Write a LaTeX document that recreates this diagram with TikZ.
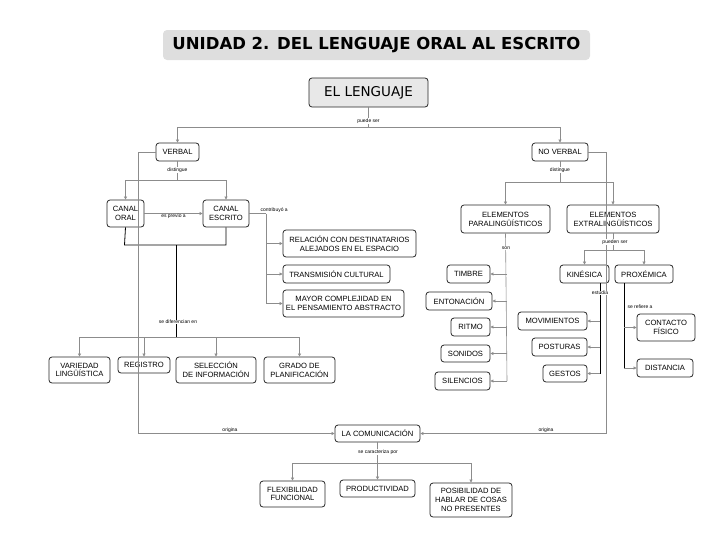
\documentclass[tikz,border=0pt]{standalone}
\usepackage{fontspec}
\setmainfont{Liberation Sans}
\newfontfamily\titlefont{DejaVu Sans}
\usetikzlibrary{arrows.meta}
\begin{document}
\begin{tikzpicture}[x=1pt,y=-1pt,
  box/.style={draw=black!85,line width=0.8pt,rounded corners=3pt,align=center,inner sep=1pt,font=\fontsize{7.6}{8.8}\selectfont},
  lab/.style={font=\fontsize{5}{6}\selectfont,inner sep=0.5pt,fill=white},
  con/.style={draw=black!45,line width=0.6pt},
  blk/.style={draw=black,line width=0.8pt},
  arr/.style={-{Triangle[length=3pt,width=3pt]}}]
\useasboundingbox (0,0) rectangle (728,546);
\node[fill=black!13,rounded corners=4pt,minimum width=427,minimum height=30,font=\titlefont\bfseries\fontsize{16.5}{18}\selectfont] (title) at (376.5,45) {UNIDAD 2. DEL LENGUAJE ORAL AL ESCRITO};
\node[box,fill=black!9,minimum width=119,minimum height=29,font=\titlefont\fontsize{13.5}{15}\selectfont] (len) at (368.5,92.5) {EL LENGUAJE};
\node[box,minimum width=43,minimum height=18] (verbal) at (177.5,152) {VERBAL};
\node[box,minimum width=56,minimum height=18] (nover) at (560,152) {NO VERBAL};
\node[box,minimum width=37,minimum height=27] (oral) at (125.5,213.5) {CANAL\\ORAL};
\node[box,minimum width=46,minimum height=27] (escr) at (226,213.5) {CANAL\\ESCRITO};
\node[box,minimum width=133,minimum height=27] (rel) at (349.5,243.5) {RELACIÓN CON DESTINATARIOS\\ALEJADOS EN EL ESPACIO};
\node[box,minimum width=107,minimum height=18] (trans) at (336.5,274) {TRANSMISIÓN CULTURAL};
\node[box,minimum width=121,minimum height=27] (mayor) at (343.5,303.5) {MAYOR COMPLEJIDAD EN\\EL PENSAMIENTO ABSTRACTO};
\node[box,minimum width=61,minimum height=26] (var) at (79.5,370) {VARIEDAD\\LINGÜÍSTICA};
\node[box,minimum width=52,minimum height=16] (reg) at (144,365) {REGISTRO};
\node[box,minimum width=80,minimum height=26] (sel) at (216,370) {SELECCIÓN\\DE INFORMACIÓN};
\node[box,minimum width=71,minimum height=26] (grado) at (299.5,370) {GRADO DE\\PLANIFICACIÓN};
\node[box,minimum width=85,minimum height=17] (com) at (377.5,433.5) {LA COMUNICACIÓN};
\node[box,minimum width=65,minimum height=26] (flex) at (292.5,494) {FLEXIBILIDAD\\FUNCIONAL};
\node[box,minimum width=75,minimum height=17] (prod) at (377.5,488.5) {PRODUCTIVIDAD};
\node[box,minimum width=82,minimum height=34] (posi) at (471,500) {POSIBILIDAD DE\\HABLAR DE COSAS\\NO PRESENTES};
\node[box,minimum width=89,minimum height=28] (para) at (505.5,219) {ELEMENTOS\\PARALINGÜÍSTICOS};
\node[box,minimum width=92,minimum height=28] (extra) at (613,219) {ELEMENTOS\\EXTRALINGÜÍSTICOS};
\node[box,minimum width=43,minimum height=18] (timbre) at (468.5,274) {TIMBRE};
\node[box,minimum width=66,minimum height=18] (ento) at (459,301) {ENTONACIÓN};
\node[box,minimum width=39,minimum height=18] (ritmo) at (470.5,327) {RITMO};
\node[box,minimum width=49,minimum height=17] (son) at (465.5,353.5) {SONIDOS};
\node[box,minimum width=55,minimum height=18] (sil) at (462.5,381) {SILENCIOS};
\node[box,minimum width=49,minimum height=18] (kin) at (584.5,274) {KINÉSICA};
\node[box,minimum width=58,minimum height=18] (prox) at (644,274) {PROXÉMICA};
\node[box,minimum width=69,minimum height=18] (mov) at (552.5,321) {MOVIMIENTOS};
\node[box,minimum width=55,minimum height=18] (pos) at (559.5,347) {POSTURAS};
\node[box,minimum width=44,minimum height=17] (ges) at (565,373.5) {GESTOS};
\node[box,minimum width=58,minimum height=27] (cont) at (666,327.5) {CONTACTO\\FÍSICO};
\node[box,minimum width=56,minimum height=18] (dist) at (665,368) {DISTANCIA};
% lenguaje
\draw[con] (len.south) -- (368.5,127);
\draw[con,arr] (368.5,127) -| (verbal.north);
\draw[con,arr] (368.5,127) -| (nover.north);
\node[lab] at (368.5,121) {puede ser};
% verbal
\coordinate (vj) at (177.5,180);
\draw[con] (verbal.south) -- (vj);
\draw[con,arr] (vj) -| (oral.north);
\draw[con,arr] (vj) -| (escr.north);
\node[lab] at (177.5,170) {distingue};
\draw[con,arr] (oral.east) -- (escr.west) node[midway,lab,yshift=-3] {es previo a};
\draw[con] (escr.east) -- (266,213.5) node[pos=0.5,right=2pt,lab,yshift=3] {contribuyó a};
\draw[con] (266,213.5) -- (266,303.5);
\draw[con,arr] (266,243.5) -- (rel.west);
\draw[con,arr] (266,274) -- (trans.west);
\draw[con,arr] (266,303.5) -- (mayor.west);
\draw[blk] (oral.south) -- (124.5,245) -| (escr.south);
\coordinate (dj) at (176,337);
\draw[blk] (176,245) -- (dj);
\node[lab] at (178,322) {se diferencian en};
\draw[con,arr] (dj) -| (var.north);
\draw[con,arr] (dj) -| (reg.north);
\draw[con,arr] (dj) -| (sel.north);
\draw[con,arr] (dj) -| (grado.north);
% origina
\draw[con,arr] (verbal.west) -| (138,433.5) -- (com.west);
\node[lab] at (230,430) {origina};
\draw[con,arr] (nover.east) -| (606,433.5) -- (com.east);
\node[lab] at (546,430) {origina};
% comunicacion
\coordinate (cj) at (377.5,463);
\draw[con] (com.south) -- (cj);
\node[lab] at (378,452) {se caracteriza por};
\draw[con,arr] (cj) -| (flex.north);
\draw[con,arr] (cj) -- (prod.north);
\draw[con,arr] (cj) -| (posi.north);
% no verbal
\coordinate (nj) at (560,182);
\draw[con] (nover.south) -- (nj);
\node[lab] at (560,170) {distingue};
\draw[con,arr] (nj) -| (para.north);
\draw[con,arr] (nj) -| (extra.north);
\draw[con] (para.south) -- (507,381);
\node[lab] at (506,248) {son};
\foreach \n in {timbre,ento,ritmo,son,sil}{\draw[con,arr] (507,0 |- \n.east) -- (\n.east);}
\coordinate (ej) at (613,250);
\draw[con] (extra.south) -- (ej);
\node[lab] at (615,242) {pueden ser};
\draw[con,arr] (ej) -| (kin.north);
\draw[con,arr] (ej) -| (prox.north);
\draw[blk] (600,283) -- (600,373.5);
\node[lab] at (600,293) {estudia};
\foreach \n in {mov,pos,ges}{\draw[con,arr] (600,0 |- \n.east) -- (\n.east);}
\draw[blk] (624,283) -- (624,368);
\node[lab] at (640,307) {se refiere a};
\foreach \n in {cont,dist}{\draw[con,arr] (624,0 |- \n.west) -- (\n.west);}
\end{tikzpicture}
\end{document}
